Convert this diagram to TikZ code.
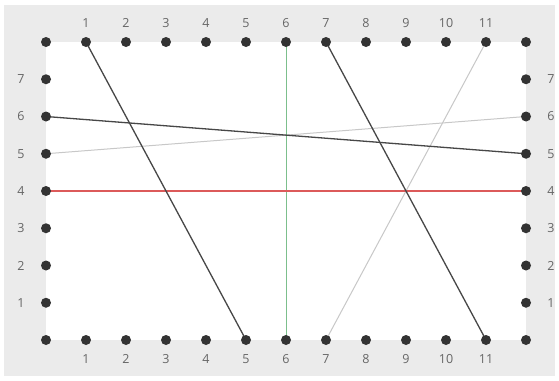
\documentclass[tikz,border=0pt]{standalone}
\usepackage{fontspec}
\setmainfont{Open Sans}
\usepackage{tikz}
\usetikzlibrary{positioning,backgrounds}
\definecolor{bgCol}{HTML}{EBEBEB}
\definecolor{dotCol}{HTML}{333333}
\definecolor{lblCol}{HTML}{666666}
\definecolor{darkLn}{HTML}{474747}
\definecolor{lightLn}{HTML}{C8C8C8}
\definecolor{redLn}{HTML}{DC5A5A}
\definecolor{greenLn}{HTML}{7CBF8C}

\begin{document}
\begin{tikzpicture}[x=1pt,y=-1pt]
  \tikzset{pin dot/.style={circle,fill=dotCol,inner sep=0pt,minimum size=10pt},
    lbl/.style={text=lblCol,inner sep=0pt,font=\fontsize{12.5}{14}\selectfont},
    chord/.style={line width=1.3pt,darkLn},
    faint/.style={line width=1pt,lightLn}}
  \useasboundingbox (0,0) rectangle (559,380);
  % pins along the four edges
  \foreach \i in {0,...,12}{
    \node[pin dot] (t\i) at ({46+40*\i},42) {};
    \node[pin dot] (b\i) at ({46+40*\i},340) {};
  }
  \foreach \j in {1,...,7}{
    \node[pin dot] (l\j) at (46,{340-37.25*\j}) {};
    \node[pin dot] (r\j) at (526,{340-37.25*\j}) {};
    \node[lbl, left=16pt of l\j] {\j};
    \node[lbl, right=16pt of r\j] {\j};
  }
  \foreach \i in {1,...,11}{
    \node[lbl, above=9pt of t\i] {\i};
    \node[lbl, below=9pt of b\i] {\i};
  }
  \begin{scope}[on background layer]
    \fill[bgCol] (4,5) rectangle (555,376);
    \fill[white] (t0.center) rectangle (b12.center);
    \draw[faint] (b7.center) -- (t11.center);
    \draw[faint] (l5.center) -- (r6.center);
    \draw[line width=1pt,greenLn] (t6.center) -- (b6.center);
    \draw[line width=1.1pt,redLn] (l4.center) -- (r4.center);
    \draw[chord] (t1.center) -- (b5.center);
    \draw[chord] (t7.center) -- (b11.center);
    \draw[chord] (l6.center) -- (r5.center);
  \end{scope}
\end{tikzpicture}
\end{document}
